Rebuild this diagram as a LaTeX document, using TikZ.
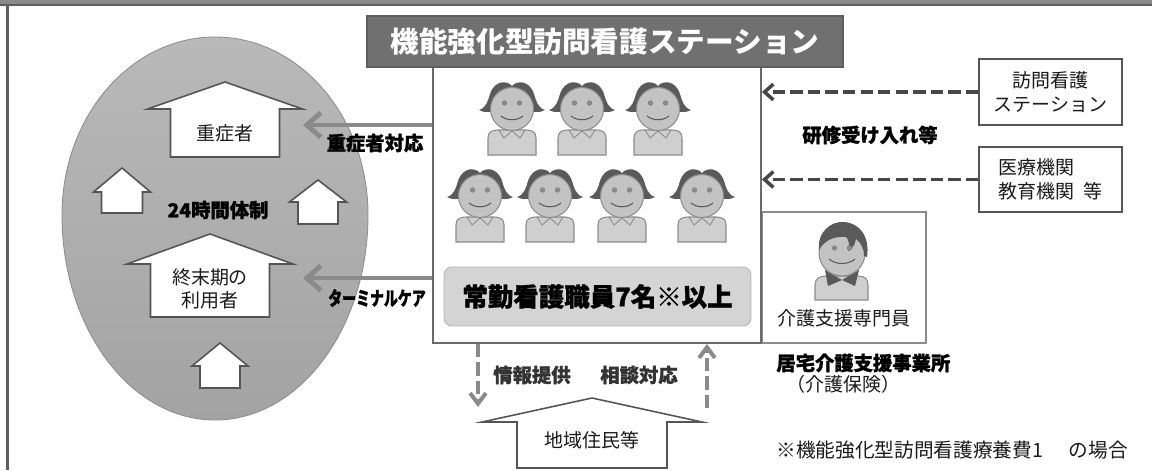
\documentclass[tikz,border=0pt]{standalone}
\usepackage{fontspec}
\setmainfont{Noto Sans CJK JP}
\usetikzlibrary{arrows.meta,calc,positioning}
\definecolor{FrameGray}{HTML}{8A8A8A}
\definecolor{FrameDark}{HTML}{5E5E5E}
\definecolor{EggTop}{HTML}{B9B9B9}
\definecolor{EggBottom}{HTML}{A3A3A3}
\definecolor{EggLine}{HTML}{8E8E8E}
\definecolor{HouseLine}{HTML}{555555}
\definecolor{BoxLine}{HTML}{6A6A6A}
\definecolor{HeadFill}{HTML}{707070}
\definecolor{StaffFill}{HTML}{D4D4D4}
\definecolor{ArrowGray}{HTML}{8A8A8A}
\definecolor{DashGray}{HTML}{474747}
\definecolor{HairGray}{HTML}{5A5A5A}
\definecolor{FaceFill}{HTML}{C3C3C3}
\definecolor{FaceLine}{HTML}{8C8C8C}
\definecolor{BodyFill}{HTML}{CFCFCF}
\definecolor{TextBlack}{HTML}{1A1A1A}

% house outline: name, x, apex y, eave y, bottom y, half eave, half body
\newcommand{\house}[7]{%
  \filldraw[houseshape] ({#2-#7},#5) -- ({#2-#7},#4) -- ({#2-#6},#4) -- (#2,#3)
    -- ({#2+#6},#4) -- ({#2+#7},#4) -- ({#2+#7},#5) -- cycle;
  \coordinate (#1) at (#2,#3);}

\tikzset{
  houseshape/.style={fill=white, draw=HouseLine, line width=0.9pt, line join=miter},
  boldtag/.style={font=\fontsize{11}{13}\selectfont\bfseries\addfontfeatures{FakeBold=1.2},
    text=black},
  plainbox/.style={draw=HouseLine, line width=0.9pt, fill=white},
  carearrow/.style={draw=ArrowGray, line width=2.8pt, -{Straight Barb[length=8pt,width=14pt]}},
  trainarrow/.style={draw=DashGray, line width=2pt, dash pattern=on 7pt off 3pt,
    -{Straight Barb[length=5pt,width=9pt]}},
  localarrow/.style={draw=ArrowGray, line width=2.3pt, dash pattern=on 7.5pt off 3pt,
    -{Straight Barb[length=6pt,width=9pt]}},
  nurse/.pic={
    \fill[HairGray] (-33,1) .. controls (-26,-1) and (-24,-8) .. (-22,-15)
      .. controls (-17,-30) and (-4,-28) .. (0,-23) .. controls (4,-28) and (17,-30) .. (22,-15)
      .. controls (24,-8) and (26,-1) .. (33,1) .. controls (25,5) and (19,3) .. (17,-1)
      -- (-17,-1) .. controls (-19,3) and (-25,5) .. (-33,1) -- cycle;
    \filldraw[fill=BodyFill, draw=FaceLine, line width=0.6pt] (-24,46) -- (-24,29)
      .. controls (-24,23) and (-20,21) .. (-14,21) -- (14,21)
      .. controls (20,21) and (24,23) .. (24,29) -- (24,46) -- cycle;
    \draw[FaceLine, line width=0.5pt] (-13,21) -- (-8,29) -- (0,22) -- (8,29) -- (13,21);
    \filldraw[fill=FaceFill, draw=FaceLine, line width=0.6pt] (0,0) circle[radius=21.5];
    \filldraw[fill=FaceLine, draw=HairGray!80, line width=0.3pt] (-7.5,-6) circle[radius=2.3]
      (7.5,-6) circle[radius=2.3];
    \draw[HairGray, line width=0.6pt] (-11,7) .. controls (-5,12) and (5,12) .. (11,7);
  },
  carer/.pic={
    \filldraw[fill=BodyFill, draw=FaceLine, line width=0.6pt] (-27,47) -- (-27,32)
      .. controls (-27,26) and (-23,23) .. (-16,23) -- (16,23)
      .. controls (23,23) and (26,26) .. (26,32) -- (26,47) -- cycle;
    \fill[HairGray] (-17,17) -- (0,27) -- (-14,33) -- cycle
      (17,17) -- (0,27) -- (13,33) -- cycle;
    \filldraw[fill=FaceFill, draw=FaceLine, line width=0.6pt] (0,0) circle[radius=23];
    \fill[HairGray] (-23,-3) .. controls (-25,-22) and (-10,-32) .. (2,-31)
      .. controls (18,-30) and (28,-16) .. (25,4) -- (22,3)
      .. controls (22,-5) and (19,-10) .. (14,-14) .. controls (13,-8) and (10,-4) .. (6,-2)
      .. controls (8,-8) and (7,-13) .. (4,-16) .. controls (-6,-17) and (-17,-14) .. (-23,-3) -- cycle;
    \filldraw[fill=FaceLine, draw=HairGray!80, line width=0.3pt] (-7.5,-5) circle[radius=2.3]
      (7.5,-5) circle[radius=2.3];
    \draw[HairGray, line width=0.6pt] (-13,6) .. controls (-6,12) and (6,12) .. (13,6);
  }
}

\begin{document}
\begin{tikzpicture}[x=0.02cm, y=-0.02cm,
  every node/.style={font=\fontsize{10.8}{13.4}\selectfont, text=TextBlack, inner sep=0pt}]
  \useasboundingbox (0,0) rectangle (1152,470);
  % frame
  \fill[FrameGray] (0,0) rectangle (1152,4);
  \fill[FrameDark] (0,4) rectangle (1152,6);
  \fill[FrameDark] (6,6) rectangle (8.5,470);

  % users side
  \shadedraw[top color=EggTop, bottom color=EggBottom, draw=EggLine, line width=0.5pt]
    (62,215) arc[start angle=180, end angle=360, x radius=153, y radius=178]
    arc[start angle=0, end angle=180, x radius=153, y radius=205] -- cycle;
  \house{sev}{225}{82}{109}{157}{77.5}{54.5}
  \node (sevtext) at (225,133) {重症者};
  \house{homel}{122}{168}{192}{213}{28.5}{20.5}
  \house{homer}{318}{180}{202}{224}{28.5}{20}
  \node[boldtag] (allday) at (218,210) {24時間体制};
  \house{term}{210}{234}{264}{317}{83}{59.5}
  \node[align=center] (termtext) at (210,289) {終末期の\\利用者};
  \house{homeb}{220}{343}{366}{388}{28}{20}

  % station
  \node[draw=BoxLine, line width=1.1pt, fill=white, minimum width=6.56cm,
    minimum height=5.52cm] (station) at (597,205) {};
  \node[draw=FrameDark, line width=0.8pt, fill=HeadFill, minimum width=9.52cm,
    minimum height=1.02cm, font=\fontsize{16.3}{18}\selectfont\bfseries, text=white]
    (head) at (605,41.5) {機能強化型訪問看護ステーション};
  \foreach \px in {512,582,658}
    \pic at (\px,109) {nurse};
  \foreach \px in {480,550,622,702}
    \pic at (\px,196) {nurse};
  \node[draw=StaffFill!85!black, line width=0.5pt, fill=StaffFill, rounded corners=4.5pt,
    minimum width=6.14cm, minimum height=1.18cm,
    font=\fontsize{14.5}{17}\selectfont\bfseries\addfontfeatures{FakeBold=1.2}, text=black]
    (staff) at (597.5,296.5) {常勤看護職員7名※以上};

  % care side arrows
  \coordinate (sevtip) at (303,125);
  \draw[carearrow] (station.west |- sevtip) -- (sevtip);
  \node[boldtag] (sevtag) at (375,143) {重症者対応};
  \coordinate (termtip) at (303,278);
  \draw[carearrow] (station.west |- termtip) -- (termtip);
  \node[boldtag] (termtag) at (377,298) {\scalebox{0.72}[1]{ターミナルケア}};

  % training
  \node[plainbox, minimum width=2.86cm, minimum height=1.32cm, align=center]
    (visit) at (1050.5,92) {訪問看護\\ステーション};
  \node[plainbox, minimum width=2.86cm, minimum height=1.30cm, align=left]
    (school) at (1050.5,179.5) {医療機関\\教育機関\ \ 等};
  \draw[trainarrow] (visit.west) -- (visit.west -| station.east);
  \draw[trainarrow] (school.west) -- (school.west -| station.east);
  \node[boldtag] (train) at (870,135) {研修受け入れ等};

  % care manager office
  \node[draw=FaceLine, line width=0.6pt, minimum width=3.28cm, minimum height=2.62cm]
    (office) at (844,277.5) {};
  \pic at (842,253) {carer};
  \node (manager) at (844,318) {介護支援専門員};
  \node[boldtag, anchor=west] (officename) at (776,363) {居宅介護支援事業所};
  \node[anchor=west] (insurance) at (786,384) {（介護保険）};

  % residents
  \house{res}{592}{398}{422}{468}{110}{75}
  \node (restext) at (592,440) {地域住民等};
  \coordinate (infoend) at (478,407);
  \draw[localarrow] (station.south -| infoend) -- (infoend);
  \coordinate (consstart) at (707,408);
  \draw[localarrow] (consstart) -- (station.south -| consstart);
  \node[boldtag, text=black!80] (info) at (532,375) {情報提供};
  \node[boldtag, text=black!80] (consult) at (639,375) {相談対応};

  \node[anchor=west, font=\fontsize{11.2}{13}\selectfont] (note) at (776,450)
    {※機能強化型訪問看護療養費1\hspace{1.3em}の場合};
\end{tikzpicture}
\end{document}
